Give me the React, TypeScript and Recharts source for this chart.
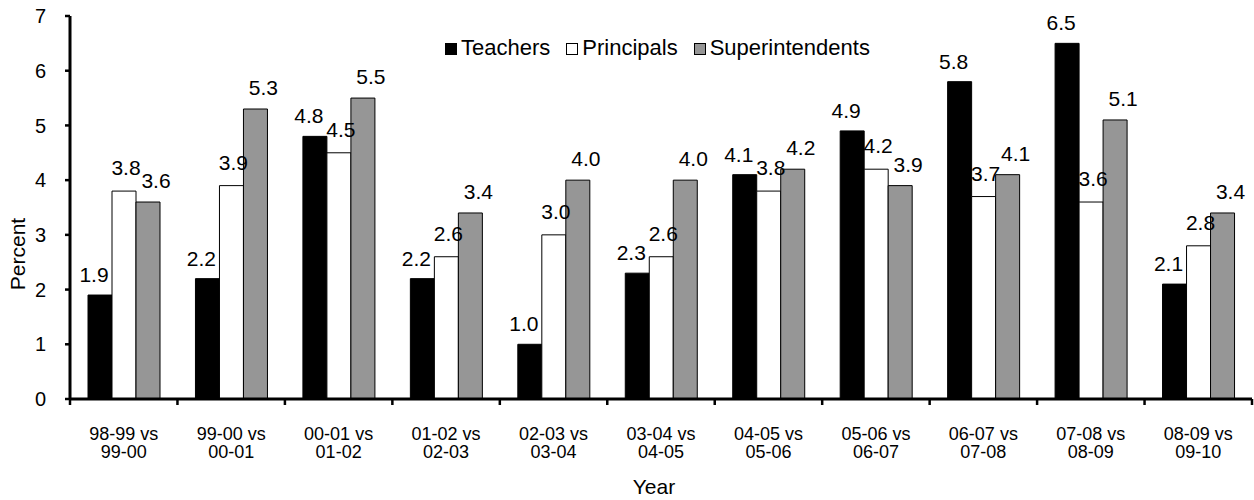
import React from 'react';
import { BarChart, Bar, XAxis, YAxis, Legend, LabelList } from 'recharts';

const categories = [
  '98-99 vs 99-00',
  '99-00 vs 00-01',
  '00-01 vs 01-02',
  '01-02 vs 02-03',
  '02-03 vs 03-04',
  '03-04 vs 04-05',
  '04-05 vs 05-06',
  '05-06 vs 06-07',
  '06-07 vs 07-08',
  '07-08 vs 08-09',
  '08-09 vs 09-10',
];
const teachers = [1.9, 2.2, 4.8, 2.2, 1.0, 2.3, 4.1, 4.9, 5.8, 6.5, 2.1];
const principals = [3.8, 3.9, 4.5, 2.6, 3.0, 2.6, 3.8, 4.2, 3.7, 3.6, 2.8];
const superintendents = [3.6, 5.3, 5.5, 3.4, 4.0, 4.0, 4.2, 3.9, 4.1, 5.1, 3.4];
const yTicks = [0, 1, 2, 3, 4, 5, 6, 7];

const seriesInfo = [
  { key: 'teachers', name: 'Teachers', color: '#000000', dx: -6, off: 13 },
  { key: 'principals', name: 'Principals', color: '#ffffff', dx: 2, off: 16 },
  { key: 'superintendents', name: 'Superintendents', color: '#969696', dx: 8, off: 14 },
];

const data = categories.map((c) => ({ category: c })).map((d, i) => ({
  ...d,
  teachers: teachers[i],
  principals: principals[i],
  superintendents: superintendents[i],
}));

const FONT = '"Liberation Sans", Arial, Helvetica, sans-serif';

const CatTick = (props: any) => {
  const { x, y, payload, index } = props;
  const half = Number(payload && payload.offset) || 0;
  const parts = String(payload.value).split(' vs ');
  const isLast = index === categories.length - 1;
  return (
    <g>
      <line x1={x - half} x2={x - half} y1={y} y2={y + 6} stroke="#000" strokeWidth={2.5} />
      {isLast ? <line x1={x + half} x2={x + half} y1={y} y2={y + 6} stroke="#000" strokeWidth={2.5} /> : null}
      <text x={x} y={y} textAnchor="middle" fontSize={18} fill="#000" fontFamily={FONT}>
        <tspan x={x} dy={41}>{parts[0]} vs</tspan>
        <tspan x={x} dy={18}>{parts[1]}</tspan>
      </text>
    </g>
  );
};

const makeLabel = (dx: number, off: number) => (p: any) => {
  const { x, y, width, value } = p;
  if (value == null) return null;
  return (
    <text
      x={Number(x) + Number(width) / 2 + dx}
      y={Number(y) - off}
      textAnchor="middle"
      fontSize={21}
      fill="#000"
      fontFamily={FONT}
    >
      {Number(value).toFixed(1)}
    </text>
  );
};

const LegendContent = () => (
  <div style={{ display: 'flex', alignItems: 'center', fontFamily: FONT, fontSize: 22, lineHeight: '22px', color: '#000', whiteSpace: 'nowrap' }}>
    {seriesInfo.map((s) => (
      <div key={s.key} style={{ display: 'flex', alignItems: 'center', marginRight: 16 }}>
        <span
          style={{
            display: 'inline-block',
            width: 10,
            height: 10,
            background: s.color,
            border: '1.5px solid #000',
            marginRight: 4,
            marginTop: 1,
          }}
        />
        <span>{s.name}</span>
      </div>
    ))}
  </div>
);

export default function App() {
  return (
    <div style={{ position: 'relative', width: 1254, height: 500, background: '#fff', fontFamily: FONT }}>
      <style>{`body{margin:0;background:#fff;}`}</style>
      <BarChart
        width={1254}
        height={500}
        data={data}
        margin={{ top: 16, right: 2, bottom: 0, left: 0 }}
        barCategoryGap={18}
        barGap={0}
      >
        <XAxis
          dataKey="category"
          height={101}
          interval={0}
          tickSize={0}
          tickMargin={0}
          tickLine={false}
          axisLine={{ stroke: '#000', strokeWidth: 3 }}
          tick={<CatTick />}
          label={{
            content: (p: any) => {
              const vb = p.viewBox || {};
              const cx = (vb.x || 0) + (vb.width || 0) / 2 - 7;
              return (
                <text x={cx} y={494} textAnchor="middle" fontSize={21} fill="#000" fontFamily={FONT}>
                  Year
                </text>
              );
            },
          }}
        />
        <YAxis
          domain={[0, 7]}
          ticks={yTicks}
          interval={0}
          width={70}
          tickSize={5}
          tickMargin={19}
          axisLine={{ stroke: '#000', strokeWidth: 3 }}
          tickLine={{ stroke: '#000', strokeWidth: 2.5 }}
          tick={{ fill: '#000', fontSize: 20, fontFamily: FONT }}
          label={{
            content: () => (
              <text x={25} y={254} transform="rotate(-90 25 254)" textAnchor="middle" fontSize={21} fill="#000" fontFamily={FONT}>
                Percent
              </text>
            ),
          }}
        />
        <Legend
          layout="horizontal"
          verticalAlign="middle"
          align="center"
          content={<LegendContent />}
          wrapperStyle={{ top: 37, left: 445, width: 'auto', height: 'auto' }}
        />
        {seriesInfo.map((s) => (
          <Bar
            key={s.key}
            dataKey={s.key}
            name={s.name}
            fill={s.color}
            stroke="#000"
            strokeWidth={1}
            isAnimationActive={false}
          >
            <LabelList dataKey={s.key} content={makeLabel(s.dx, s.off)} />
          </Bar>
        ))}
      </BarChart>
    </div>
  );
}
